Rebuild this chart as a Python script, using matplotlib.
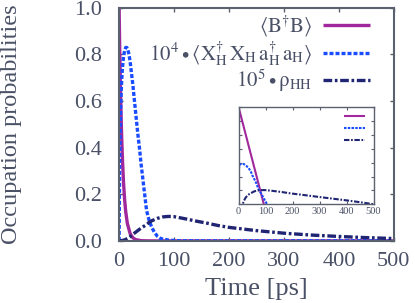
import matplotlib
matplotlib.use("Agg")
import matplotlib.pyplot as plt
from matplotlib.ticker import MultipleLocator, LogLocator, NullLocator, NullFormatter

# <B^dagger B>
t_b = [0, 1, 2, 3, 4, 5, 6, 8, 10, 12, 15, 20, 25, 30, 40, 50, 60, 70, 80,
       90, 100, 150, 200, 300, 400, 500]
b_occ = [1.0, 0.842, 0.708, 0.596, 0.502, 0.422, 0.355, 0.252, 0.178, 0.126,
         0.075, 0.0318, 0.0134, 5.7e-3, 1.0e-3, 1.8e-4, 3.2e-5, 5.7e-6, 1.0e-6,
         1.8e-7, 3.2e-8, 1e-10, 1e-12, 1e-12, 1e-12, 1e-12]

# 10^4 * <X_H^dagger X_H a_H^dagger a_H>
t_x = [0, 0.5, 1, 2, 3, 4, 5, 6, 8, 10, 12, 14, 16, 18, 20, 22, 25, 28, 31,
       34, 37, 40, 43, 46, 50, 55, 60, 65, 70, 75, 80, 90, 100, 105, 110, 120,
       150, 200, 300, 400, 500]
x_occ = [0.0, 0.18, 0.32, 0.48, 0.58, 0.65, 0.70, 0.74, 0.79, 0.815, 0.83,
         0.83, 0.82, 0.80, 0.77, 0.73, 0.67, 0.60, 0.53, 0.46, 0.40, 0.33,
         0.27, 0.21, 0.13, 0.085, 0.055, 0.034, 0.019, 0.011, 0.0075, 0.0035,
         0.0015, 0.001, 0.0006, 0.0002, 1e-5, 1e-7, 1e-8, 1e-8, 1e-8]

# 10^5 * rho_HH
t_h = [0, 3, 6, 10, 15, 20, 25, 30, 35, 40, 50, 55, 60, 70, 80, 90, 100, 120,
       140, 160, 180, 200, 250, 300, 350, 400, 450, 500]
h_occ = [0.0, 0.0005, 0.002, 0.004, 0.01, 0.018, 0.028, 0.037, 0.046, 0.055,
         0.07, 0.08, 0.087, 0.097, 0.103, 0.105, 0.104, 0.095, 0.085, 0.076,
         0.066, 0.058, 0.044, 0.033, 0.025, 0.019, 0.014, 0.01]

scale_x = 1e4
scale_h = 1e5

labels = [r'$\langle \mathrm{B}^{\dagger} \mathrm{B} \rangle$',
          r'$10^4 \bullet \langle \mathrm{X}_{\mathrm{H}}^{\dagger}\, \mathrm{X}_{\mathrm{H}}\, '
          r'\mathrm{a}_{\mathrm{H}}^{\dagger}\, \mathrm{a}_{\mathrm{H}} \rangle$',
          r'$10^5 \bullet \mathrm{\rho}_{\mathrm{HH}}$']

txt_col = "#4a5166"
spine_col = "#5c6170"
c_purple = "#a0289c"
c_blue = "#1a4cff"
c_navy = "#1f2473"

plt.rcParams["font.family"] = ["Liberation Serif", "DejaVu Serif"]
plt.rcParams["mathtext.fontset"] = "stix"
plt.rcParams["text.color"] = txt_col
plt.rcParams["axes.labelcolor"] = txt_col
plt.rcParams["xtick.color"] = spine_col
plt.rcParams["ytick.color"] = spine_col
plt.rcParams["xtick.labelcolor"] = txt_col
plt.rcParams["ytick.labelcolor"] = txt_col


def draw(ax, lw, inset=False):
    x_vals = [v / scale_x for v in x_occ] if inset else x_occ
    h_vals = [v / scale_h for v in h_occ] if inset else h_occ
    l1, = ax.plot(t_b, b_occ, color=c_purple, lw=lw, solid_capstyle="butt")
    l2, = ax.plot(t_x, x_vals, color=c_blue, lw=lw, dashes=(1.2, 0.6))
    l3, = ax.plot(t_h, h_vals, color=c_navy, lw=lw, dashes=(2.6, 0.8, 0.8, 0.8))
    for sp in ax.spines.values():
        sp.set_color(spine_col)
        sp.set_linewidth(1.5 if not inset else 1.0)
    return [l1, l2, l3]


fig = plt.figure(figsize=(4.15, 3.03), dpi=100)
ax = fig.add_axes([0.287, 0.205, 0.662, 0.769])
lines = draw(ax, 2.4)
ax.set_xlim(0, 500)
ax.set_ylim(0, 1)
ax.xaxis.set_major_locator(MultipleLocator(100))
ax.yaxis.set_major_locator(MultipleLocator(0.2))
ax.yaxis.set_major_formatter(plt.FuncFormatter(lambda v, p: f"{v:.1f}"))
ax.tick_params(direction="in", length=3, width=1, top=True, right=True,
               labelsize=16)
ax.tick_params(axis="y", pad=12)
ax.tick_params(axis="x", pad=8)
ax.set_xlabel("Time [ps]", fontsize=19, labelpad=5)
ax.set_ylabel("Occupation probabilities", fontsize=17.5)
ax.yaxis.set_label_coords(-0.352, 0.5)
ax.legend(lines, labels, loc="upper right", frameon=False, markerfirst=False,
          fontsize=15, handlelength=2.3, handletextpad=0.5, labelspacing=0.0,
          borderpad=0, borderaxespad=0, bbox_to_anchor=(0.915, 0.975))

ins = fig.add_axes([0.575, 0.326, 0.325, 0.320])
lines_in = draw(ins, 1.5, inset=True)
ins.set_yscale("log")
ins.set_xlim(0, 500)
ins.set_ylim(1e-7, 1)
ins.xaxis.set_major_locator(MultipleLocator(100))
ins.yaxis.set_major_locator(LogLocator(base=10, numticks=20))
ins.yaxis.set_minor_locator(NullLocator())
ins.yaxis.set_major_formatter(NullFormatter())
ins.tick_params(direction="in", length=2, width=0.8, top=True, right=True,
                labelsize=7.5, pad=2)
ins.legend(lines_in, ["", "", ""], loc="upper right", frameon=False,
           markerfirst=False, fontsize=7, handlelength=2.1, handletextpad=0,
           labelspacing=0.3, borderpad=0, borderaxespad=0,
           bbox_to_anchor=(0.935, 0.95))

fig.savefig("out.png", dpi=100)
